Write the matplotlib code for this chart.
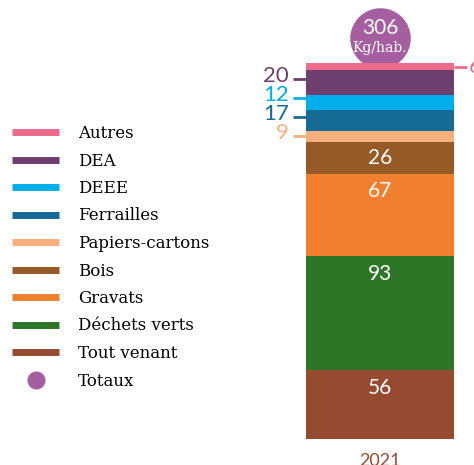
import matplotlib.pyplot as plt
from matplotlib.lines import Line2D

categories = ['Tout venant', 'Déchets verts', 'Gravats', 'Bois', 'Papiers-cartons',
              'Ferrailles', 'DEEE', 'DEA', 'Autres']
values = [56, 93, 67, 26, 9, 17, 12, 20, 6]
colors = ['#964B30', '#2E7627', '#F08030', '#955A26', '#F7AF7E',
          '#156A96', '#00AEEA', '#6E3F6E', '#EC6A8A']
year = '2021'
total_name = 'Totaux'
total_label = 'Kg/hab.'
total_color = '#A55FA0'
outside = {'Papiers-cartons': 'left', 'Ferrailles': 'left', 'DEEE': 'left',
           'DEA': 'left', 'Autres': 'right'}

total = sum(values)

fig = plt.figure(figsize=(4.74, 4.65), dpi=100)
ax = fig.add_axes([0, 0, 1, 1])
px = 1.229  # pixels per unit
ax.set_xlim(0, 474)
ax.set_ylim(-26 / px, 439 / px)
ax.axis('off')

bx, bw = 380, 148
ax.scatter([bx], [total + 20], s=1900, color=total_color, zorder=1, linewidths=0)
ax.text(bx, total + 28.5, str(total), ha='center', va='center', color='white',
        fontsize=15, family='Lato', zorder=5)
ax.text(bx, total + 12.5, total_label, ha='center', va='center', color='white',
        fontsize=10, family='DejaVu Serif', zorder=5)

bottom = 0
last_left = None
for cat, v, c in zip(categories, values, colors):
    ax.bar(bx, v, width=bw, bottom=bottom, color=c, zorder=2)
    mid = bottom + v / 2
    side = outside.get(cat)
    if side == 'left':
        # spread labels so they don't collide
        y = mid if last_left is None else max(mid, last_left + 15.5)
        last_left = y
        ax.plot([bx - bw / 2 - 13, bx - bw / 2], [y, y], color=c, lw=2,
                zorder=3, solid_capstyle='butt')
        ax.text(bx - bw / 2 - 17, y + 2.5, str(v), ha='right', va='center',
                color=c, fontsize=16, family='Lato')
    elif side == 'right':
        ax.plot([bx + bw / 2, bx + bw / 2 + 13], [mid, mid], color=c, lw=2,
                zorder=3, solid_capstyle='butt')
        ax.text(bx + bw / 2 + 15, mid, str(v), ha='left', va='center',
                color=c, fontsize=16, family='Lato')
    else:
        ax.text(bx, bottom + v - min(v / 2, 14.5), str(v), ha='center',
                va='center', color='white', fontsize=15, family='Lato', zorder=4)
    bottom += v

ax.text(bx, -17.5, year, ha='center', va='center', color='#9A4A30',
        fontsize=13, family='Lato')

legend_style = dict(frameon=False, borderpad=0, borderaxespad=0, handlelength=2.82,
                    handletextpad=1.14, labelspacing=0.63,
                    prop={'family': 'DejaVu Serif', 'size': 12})
handles = [Line2D([], [], color=c, lw=5, solid_capstyle='butt') for c in colors[::-1]]
leg = ax.legend(handles, categories[::-1], loc='upper left',
                bbox_to_anchor=(12 / 474, 1 - 125 / 465), **legend_style)
ax.add_artist(leg)
dot = Line2D([], [], marker='o', ls='', markersize=13,
             markerfacecolor=total_color, markeredgewidth=0)
ax.legend([dot], [total_name], loc='upper left',
          bbox_to_anchor=(12 / 474, 1 - 373 / 465), **legend_style)

fig.savefig('out.png', dpi=100)
